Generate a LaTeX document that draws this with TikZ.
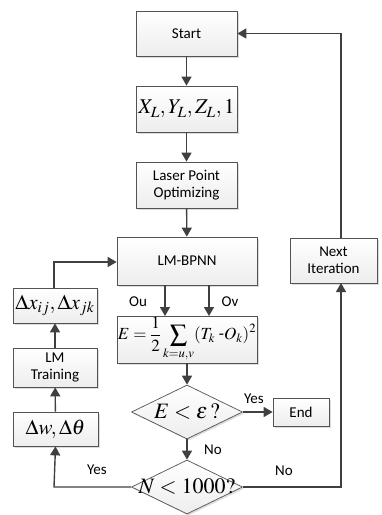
\documentclass[tikz,border=0pt]{standalone}
\usepackage{amsmath}
\usepackage{mathptmx}
\usepackage{fontspec}
\setmainfont{Carlito}
\usetikzlibrary{arrows.meta,shapes.geometric,shadows}
\begin{document}
\begin{tikzpicture}[x=1pt,y=-1pt,
  box/.style={draw=gray!65!black, line width=0.7pt, top color=white, bottom color=gray!14,
    drop shadow={shadow xshift=1.6pt, shadow yshift=-1.6pt, fill=gray!60, opacity=0.45},
    inner sep=0pt, align=center, font=\fontsize{15}{17}\selectfont},
  dia/.style={draw=gray!65!black, line width=0.7pt, diamond, top color=white, bottom color=gray!14,
    drop shadow={shadow xshift=1.6pt, shadow yshift=-1.6pt, fill=gray!60, opacity=0.45},
    inner sep=0pt, minimum width=111pt, minimum height=54pt},
  arr/.style={draw=black!75, line width=1.4pt, -{Triangle[length=9pt,width=10pt]}},
  ln/.style={draw=black!75, line width=1.4pt},
  lab/.style={font=\fontsize{15}{17}\selectfont, inner sep=0pt},
  mth/.style={font=\fontsize{21}{23}\selectfont}
]
\useasboundingbox (0,0) rectangle (382,515);

\node[box, minimum width=101pt, minimum height=45pt] (start) at (186.5,33.5) {Start};
\node[box, minimum width=101pt, minimum height=46pt, mth] (xl) at (186.5,109) {$X_L, Y_L, Z_L, 1$};
\node[box, minimum width=101pt, minimum height=46pt] (laser) at (186.5,185) {Laser Point\\Optimizing};
\node[box, minimum width=140pt, minimum height=48pt] (bpnn) at (187,261) {LM-BPNN};
\node[box, minimum width=87pt, minimum height=45pt] (next) at (333.5,260.5) {Next\\Iteration};
\node[box, minimum width=84pt, minimum height=35pt, mth] (dx) at (55,305.5) {$\Delta x_{ij}, \Delta x_{jk}$};
\node[box, minimum width=140pt, minimum height=47pt, font=\fontsize{17}{19}\selectfont] (ebox) at (187,339.5) {$E=\dfrac{1}{2}\displaystyle\sum_{k=u,v}(T_k\text{ -}O_k)^2$};
\node[box, minimum width=84pt, minimum height=39pt] (lmt) at (55,367.5) {LM\\Training};
\node[box, minimum width=85pt, minimum height=34pt, mth] (dw) at (55.5,429) {$\Delta w, \Delta\theta$};
\node[dia] (d1) at (187,412) {};
\node[mth, font=\fontsize{22}{24}\selectfont] (t1) at (d1) {$E<\varepsilon\,?$};
\node[box, minimum width=56pt, minimum height=28pt] (end) at (301,412) {End};
\node[dia] (d2) at (187,487) {};
\node[mth, font=\fontsize{22}{24}\selectfont] (t2) at (d2) {$N<1000?$};

\coordinate (ou1) at (165,285);
\coordinate (ou2) at (165,316);
\coordinate (ov1) at (209,285);
\coordinate (ov2) at (209,316);
\coordinate (cl) at (54,487);
\coordinate (cr) at (341,487);
\coordinate (nb) at (341,283);
\coordinate (nt) at (341,238);
\coordinate (ntop) at (341,33.5);
\coordinate (dxt) at (54,288);
\coordinate (dxc) at (54,262);

\draw[arr] (start) -- (xl);
\draw[arr] (xl) -- (laser);
\draw[arr] (laser) -- (bpnn);
\draw[arr] (ou1) -- (ou2);
\draw[arr] (ov1) -- (ov2);
\draw[arr] (ebox) -- (d1);
\draw[arr] (d1) -- (d2);
\draw[arr] (d1.east) -- (end.west);
\draw[arr] (d2.west) -- (cl) -- (dw.south);
\draw[arr] (dw) -- (lmt);
\draw[arr] (lmt) -- (dx);
\draw[arr] (dxt) -- (dxc) -- (bpnn.west |- dxc);
\draw[arr] (d2.east) -- (cr) -- (nb);
\draw[arr] (nt) -- (ntop) -- (start.east);

\node[lab] at (138,302) {Ou};
\node[lab] at (230,302) {Ov};
\node[lab] at (254,399) {Yes};
\node[lab] at (213,450) {No};
\node[lab] at (97,470) {Yes};
\node[lab] at (284,471) {No};
\end{tikzpicture}
\end{document}
